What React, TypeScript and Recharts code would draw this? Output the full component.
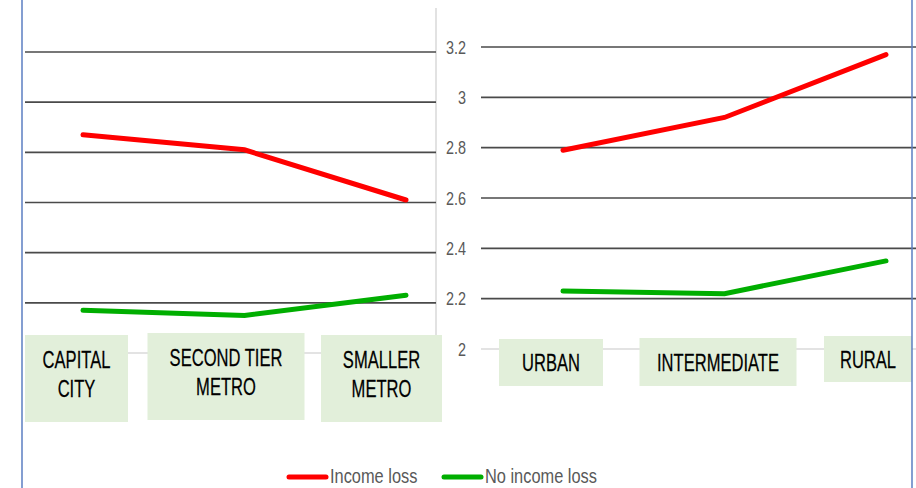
import React from "react";
import { LineChart, Line, XAxis, YAxis, ReferenceLine } from "recharts";

// ---- data ----
const LEFT_CATEGORIES = ["CAPITAL\nCITY", "SECOND TIER\nMETRO", "SMALLER\nMETRO"];
const LEFT_INCOME_LOSS = [2.87, 2.81, 2.61];
const LEFT_NO_INCOME_LOSS = [2.17, 2.15, 2.23];

const RIGHT_CATEGORIES = ["URBAN", "INTERMEDIATE", "RURAL"];
const RIGHT_INCOME_LOSS = [2.79, 2.92, 3.17];
const RIGHT_NO_INCOME_LOSS = [2.23, 2.22, 2.35];

const Y_TICKS = [2, 2.2, 2.4, 2.6, 2.8, 3, 3.2];
const SERIES = [
  { key: "loss", label: "Income loss", color: "#FF0000" },
  { key: "noLoss", label: "No income loss", color: "#00AE00" },
];

const FONT = '"Liberation Sans", Arial, sans-serif';
const GRID_DARK = "#4A4A4A";
const GRID_LIGHT = "#DADADA";
const BOX_FILL = "#E2EFDA";

// label box layout (offsets from the tick point), per panel
const LEFT_BOXES = [
  { dx: -58, w: 103, top: -18, h: 87 },
  { dx: -97, w: 157, top: -20, h: 87 },
  { dx: -85, w: 121, top: -18, h: 87 },
];
const RIGHT_BOXES = [
  { dx: -64, w: 104, top: -10, h: 47 },
  { dx: -85, w: 157, top: -11, h: 48 },
  { dx: -62, w: 88, top: -13, h: 46 },
];

const leftData = LEFT_CATEGORIES.map((name, i) => ({
  name,
  loss: LEFT_INCOME_LOSS[i],
  noLoss: LEFT_NO_INCOME_LOSS[i],
}));
const rightData = RIGHT_CATEGORIES.map((name, i) => ({
  name,
  loss: RIGHT_INCOME_LOSS[i],
  noLoss: RIGHT_NO_INCOME_LOSS[i],
}));

function makeBoxTick(boxes: any[]) {
  return function BoxTick({ x, y, payload, index }: any) {
    const b = boxes[index] || boxes[0];
    const lines = String(payload.value).split("\n");
    const left = x + b.dx;
    const top = y + b.top;
    const cx = left + b.w / 2;
    return (
      <g>
        <rect x={left} y={top} width={b.w} height={b.h} fill={BOX_FILL} />
        {lines.map((ln, i) => {
          const cy =
            lines.length === 1 ? top + b.h / 2 : top + 24 + i * 29;
          return (
            <g key={i} transform={`translate(${cx},${cy + 8.5})`}>
              <text
                x={0}
                y={0}
                textAnchor="middle"
                fontSize={24}
                fontFamily={FONT}
                fill="#000"
                stroke="#000"
                strokeWidth={0.25}
                transform="scale(0.69,1)"
              >
                {ln}
              </text>
            </g>
          );
        })}
      </g>
    );
  };
}

function YTick({ x, y, payload }: any) {
  return (
    <g transform={`translate(${x},${y + 6.5})`}>
      <text
        x={0}
        y={0}
        textAnchor="end"
        fontSize={18}
        fontFamily={FONT}
        fill="#595959"
        transform="scale(0.8,1)"
      >
        {payload.value}
      </text>
    </g>
  );
}

function GridLines() {
  return Y_TICKS.map((t) => (
    <ReferenceLine
      key={t}
      y={t}
      stroke={t === 2 ? GRID_LIGHT : GRID_DARK}
      strokeWidth={1.6}
    />
  ));
}

function SeriesLines() {
  return SERIES.map((s) => (
    <Line
      key={s.key}
      type="linear"
      dataKey={s.key}
      stroke={s.color}
      strokeWidth={5}
      strokeLinecap="round"
      dot={false}
      activeDot={false}
      isAnimationActive={false}
    />
  ));
}

export default function App() {
  return (
    <div
      style={{
        position: "absolute",
        left: 0,
        top: 0,
        width: 916,
        height: 488,
        background: "#fff",
        overflow: "hidden",
        fontFamily: FONT,
      }}
    >
      {/* middle axis line */}
      <svg width={916} height={488} style={{ position: "absolute", left: 0, top: 0 }}>
        <line x1={436} y1={8} x2={436} y2={352} stroke="#D9D9D9" strokeWidth={1.5} />
      </svg>

      {/* Left panel */}
      <div style={{ position: "absolute", left: 0, top: 0 }}>
        <LineChart
          width={445}
          height={440}
          data={leftData}
          margin={{ top: 52, right: 9, left: 25, bottom: 0 }}
          style={{ overflow: "visible" }}
        >
          <YAxis hide domain={[2, 3.2]} ticks={Y_TICKS} />
          {GridLines()}
          {SeriesLines()}
          <XAxis
            dataKey="name"
            height={87}
            axisLine={false}
            tickLine={false}
            tickSize={0}
            tickMargin={0}
            interval={0}
            padding={{ left: 58, right: 30 }}
            tick={makeBoxTick(LEFT_BOXES)}
          />
        </LineChart>
      </div>

      {/* Right panel */}
      <div style={{ position: "absolute", left: 436, top: 0 }}>
        <LineChart
          width={480}
          height={440}
          data={rightData}
          margin={{ top: 47, right: 0, left: 0, bottom: 0 }}
        >
          <YAxis
            width={45}
            domain={[2, 3.2]}
            ticks={Y_TICKS}
            axisLine={false}
            tickLine={false}
            tickSize={0}
            tickMargin={15}
            tick={<YTick />}
          />
          {GridLines()}
          {SeriesLines()}
          <XAxis
            dataKey="name"
            height={91}
            axisLine={false}
            tickLine={false}
            tickSize={0}
            tickMargin={0}
            interval={0}
            padding={{ left: 82, right: 30 }}
            tick={makeBoxTick(RIGHT_BOXES)}
          />
        </LineChart>
      </div>

      {/* borders */}
      <svg width={916} height={488} style={{ position: "absolute", left: 0, top: 0, pointerEvents: "none" }}>
        <line x1={22} y1={0} x2={22} y2={488} stroke="#5B7EC2" strokeWidth={1.5} />
        <line x1={912} y1={0} x2={912} y2={488} stroke="#5B7EC2" strokeWidth={1.5} />
      </svg>

      {/* Legend */}
      <svg width={916} height={488} style={{ position: "absolute", left: 0, top: 0, pointerEvents: "none" }}>
        {SERIES.map((s, i) => {
          const x0 = i === 0 ? 289 : 444;
          return (
            <g key={s.key}>
              <line x1={x0} y1={477} x2={x0 + 37} y2={477} stroke={s.color} strokeWidth={5} strokeLinecap="round" />
              <g transform={`translate(${x0 + 41},483)`}>
                <text x={0} y={0} fontSize={21} fontFamily={FONT} fill="#595959" transform="scale(0.78,1)">
                  {s.label}
                </text>
              </g>
            </g>
          );
        })}
      </svg>
    </div>
  );
}
